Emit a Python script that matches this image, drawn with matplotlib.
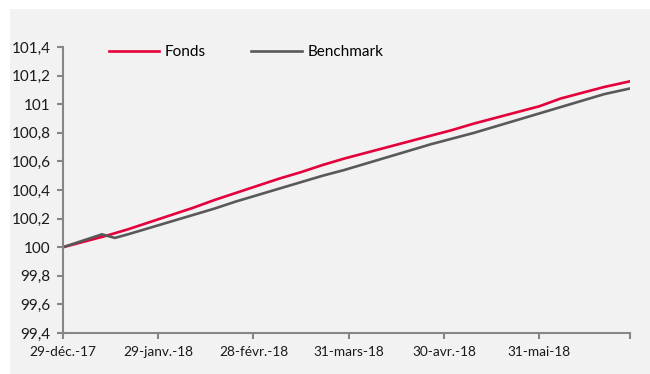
import matplotlib
matplotlib.use("Agg")
import matplotlib.pyplot as plt
from matplotlib.patches import Rectangle
from matplotlib.ticker import FuncFormatter

# business-day index since 29-dec-17 and values
fonds_day = [0, 5, 10, 15, 20, 25, 30, 35, 40, 45, 50, 55, 60, 65, 70,
             75, 80, 85, 90, 95, 100, 105, 110, 115, 120, 125, 131]
fonds = [100.00, 100.04, 100.08, 100.125, 100.175, 100.225, 100.275, 100.33,
         100.38, 100.43, 100.48, 100.525, 100.575, 100.62, 100.66, 100.70,
         100.74, 100.78, 100.82, 100.865, 100.905, 100.945, 100.985, 101.04,
         101.08, 101.12, 101.16]

bench_day = [0, 5, 9, 12, 15, 20, 25, 30, 35, 40, 45, 50, 55, 60, 65, 70,
             75, 80, 85, 90, 95, 100, 105, 110, 115, 120, 125, 131]
bench = [100.00, 100.05, 100.09, 100.065, 100.09, 100.135, 100.18, 100.225,
         100.27, 100.32, 100.365, 100.41, 100.455, 100.50, 100.54, 100.585,
         100.63, 100.675, 100.72, 100.76, 100.80, 100.845, 100.89, 100.935,
         100.98, 101.025, 101.07, 101.11]

tick_days = [0, 22, 44, 66, 88, 110, 131]
tick_labels = ["29-déc.-17", "29-janv.-18", "28-févr.-18", "31-mars-18",
               "30-avr.-18", "31-mai-18", ""]

plt.rcParams["font.family"] = ["Lato", "DejaVu Sans"]

W, H = 650, 374
fig = plt.figure(figsize=(W / 100, H / 100), dpi=100, facecolor="white")
fig.patches.append(Rectangle((10 / W, 0), 1, 1 - 9 / H, transform=fig.transFigure,
                             facecolor="#F2F2F2", edgecolor="none", zorder=-1))
ax = fig.add_axes([63 / W, 41 / H, 567 / W, 286 / H])
ax.set_facecolor("none")

ax.plot(fonds_day, fonds, color="#E4003A", lw=1.9, label="Fonds")
ax.plot(bench_day, bench, color="#595959", lw=1.9, label="Benchmark")

ax.set_xlim(0, 131)
ax.set_ylim(99.4, 101.4)
ax.set_yticks([99.4 + 0.2 * k for k in range(11)])
ax.yaxis.set_major_formatter(FuncFormatter(
    lambda v, p: f"{v:.1f}".rstrip("0").rstrip(".").replace(".", ",")))
ax.set_xticks(tick_days)
ax.set_xticklabels(tick_labels)

for side in ("top", "right"):
    ax.spines[side].set_visible(False)
for side in ("left", "bottom"):
    ax.spines[side].set_color("#868686")
    ax.spines[side].set_linewidth(1.5)
ax.tick_params(axis="both", color="#868686", width=1.5, length=4)
ax.tick_params(axis="y", labelsize=11, pad=5, labelcolor="#1a1a1a")
ax.tick_params(axis="x", labelsize=9.8, pad=5, labelcolor="#1a1a1a")

ax.legend(loc="center left", bbox_to_anchor=(32 / 567, 0.982), ncol=2, frameon=False,
          fontsize=11, handlelength=3.3, columnspacing=3.0, handletextpad=0.35)

fig.savefig("out.png", dpi=100, facecolor=fig.get_facecolor())
